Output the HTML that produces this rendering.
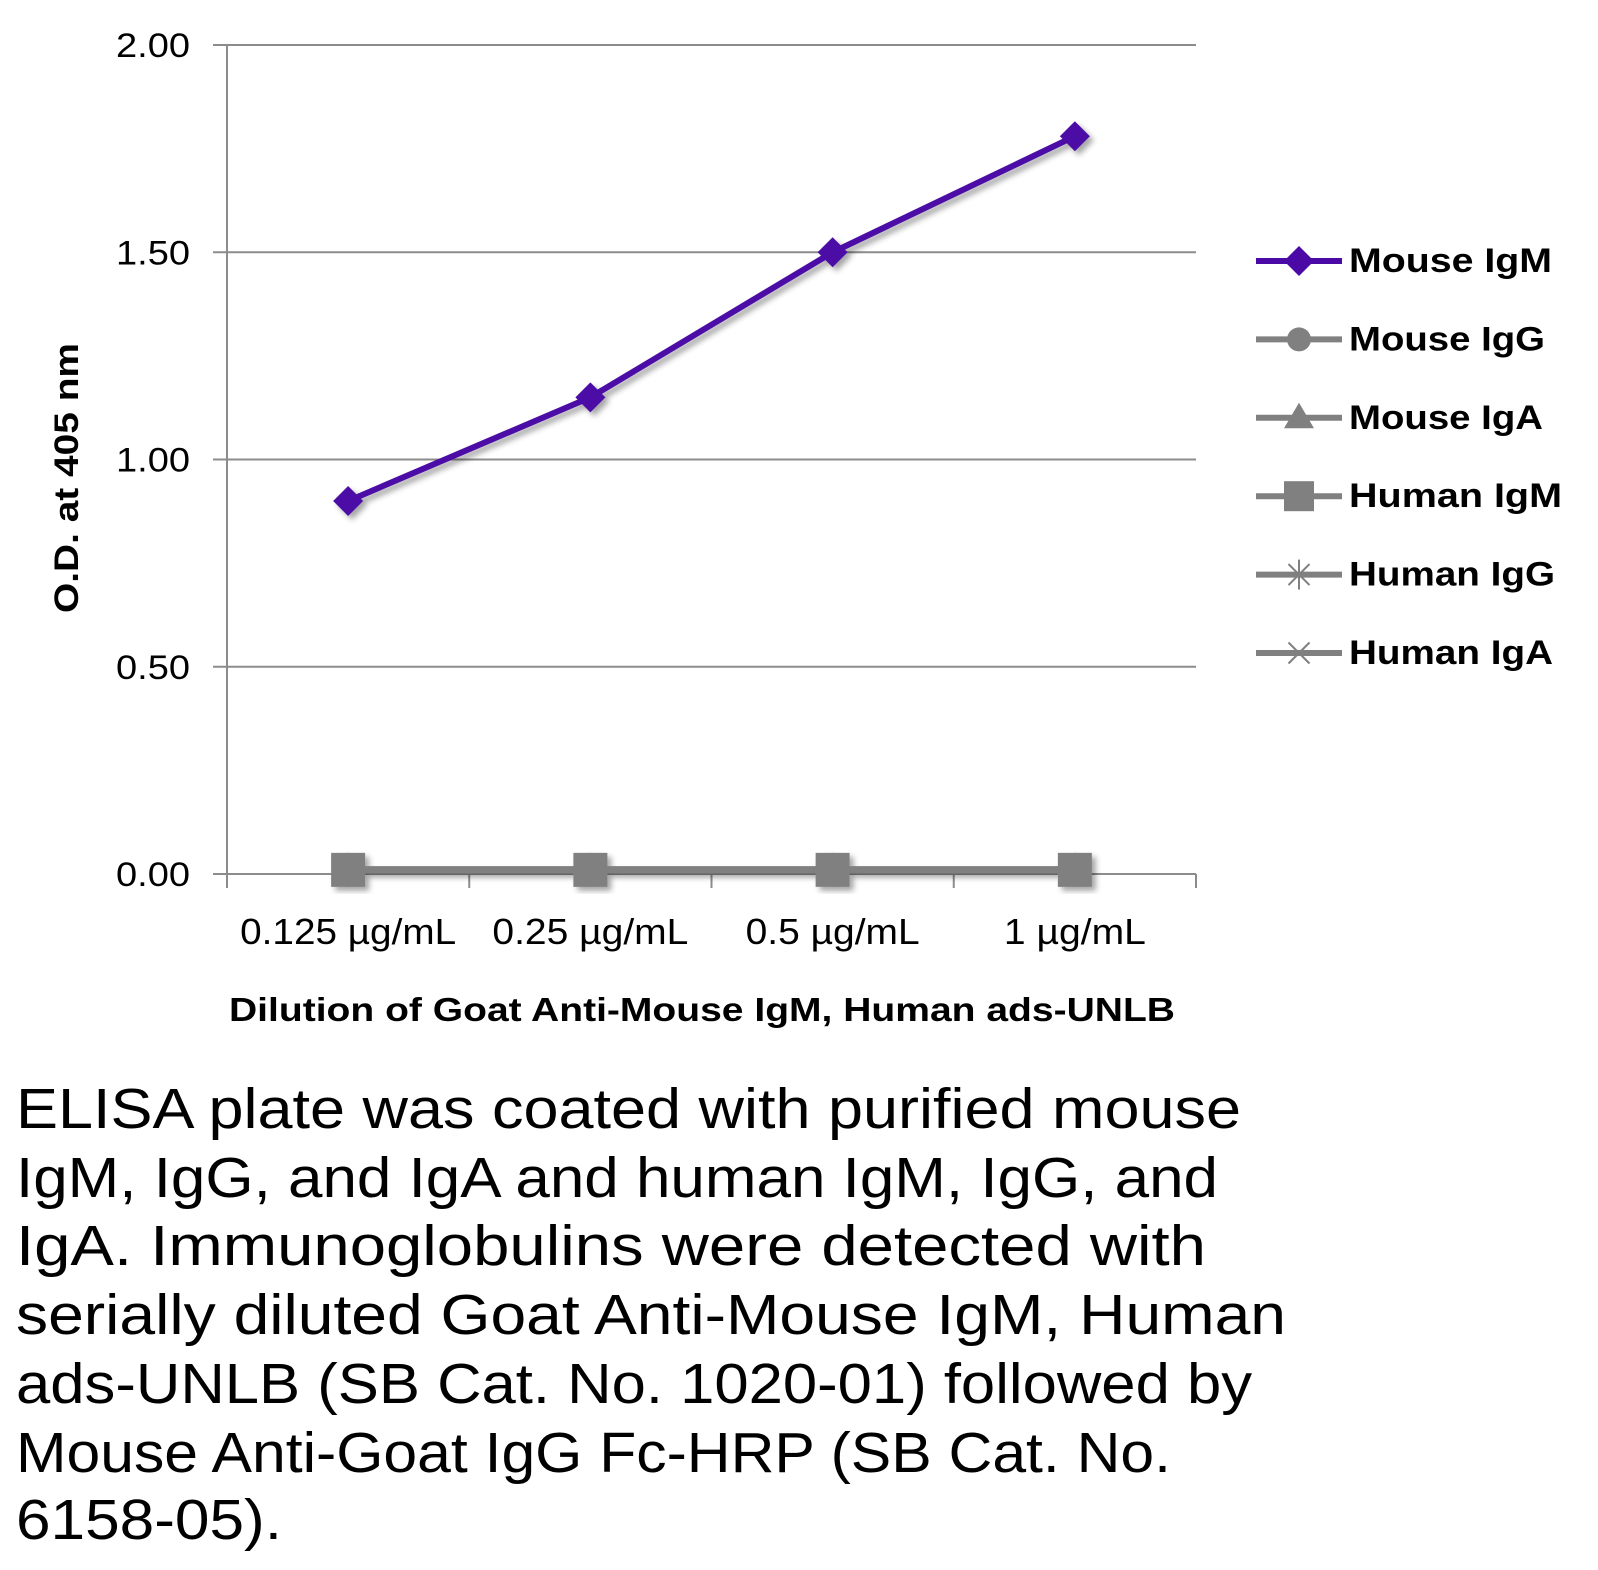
<!DOCTYPE html>
<html><head><meta charset="utf-8"><style>
html,body{margin:0;padding:0;background:#fff;}
svg{display:block;font-family:"Liberation Sans",sans-serif;}
</style></head><body>
<svg id="chart" width="1598" height="1570" viewBox="0 0 1598 1570" xmlns="http://www.w3.org/2000/svg">
<defs><filter id="sh" x="-20%" y="-20%" width="140%" height="140%"><feDropShadow dx="4" dy="4" stdDeviation="3" flood-color="#000" flood-opacity="0.35"/></filter></defs>
<g id="grid"></g>
<g id="axes"></g>
<g id="series"></g>
<text transform="translate(78,478) rotate(-90)" text-anchor="middle" font-weight="bold" font-size="34" textLength="270" lengthAdjust="spacingAndGlyphs">O.D. at 405 nm</text>
<text x="702" y="1021" text-anchor="middle" font-weight="bold" font-size="33" textLength="946" lengthAdjust="spacingAndGlyphs">Dilution of Goat Anti-Mouse IgM, Human ads-UNLB</text>
<g id="legend"></g>
<g font-size="57">
<text x="16" y="1128" textLength="1225" lengthAdjust="spacingAndGlyphs">ELISA plate was coated with purified mouse</text>
<text x="16" y="1197" textLength="1202" lengthAdjust="spacingAndGlyphs">IgM, IgG, and IgA and human IgM, IgG, and</text>
<text x="16" y="1265" textLength="1190" lengthAdjust="spacingAndGlyphs">IgA.  Immunoglobulins were detected with</text>
<text x="16" y="1334" textLength="1270" lengthAdjust="spacingAndGlyphs">serially diluted Goat Anti-Mouse IgM, Human</text>
<text x="16" y="1403" textLength="1236" lengthAdjust="spacingAndGlyphs">ads-UNLB (SB Cat. No. 1020-01) followed by</text>
<text x="16" y="1472" textLength="1155" lengthAdjust="spacingAndGlyphs">Mouse Anti-Goat IgG Fc-HRP (SB Cat. No.</text>
<text x="16" y="1539" textLength="266" lengthAdjust="spacingAndGlyphs">6158-05).</text>
</g>
</svg>
<script>
const categories = ["0.125 µg/mL","0.25 µg/mL","0.5 µg/mL","1 µg/mL"];
const yTicks = [0,0.5,1,1.5,2];
const yTickLabels = ["0.00","0.50","1.00","1.50","2.00"];
const seriesNames = ["Mouse IgM","Mouse IgG","Mouse IgA","Human IgM","Human IgG","Human IgA"];
const mouseIgM = [0.90,1.15,1.50,1.78];
const mouseIgG = [0.01,0.01,0.01,0.01];
const mouseIgA = [0.01,0.01,0.01,0.01];
const humanIgM = [0.01,0.01,0.01,0.01];
const humanIgG = [0.01,0.01,0.01,0.01];
const humanIgA = [0.01,0.01,0.01,0.01];

const NS="http://www.w3.org/2000/svg";
const X0=227,X1=1196,Y0=874,Y1=45,YMAX=2;
const y=v=>Y0-(v/YMAX)*(Y0-Y1);
const band=(X1-X0)/categories.length;
const x=i=>X0+band*(i+0.5);
function mk(tag,attrs,parent){const e=document.createElementNS(NS,tag);for(const k in attrs)e.setAttribute(k,attrs[k]);parent.appendChild(e);return e;}
const grid=document.getElementById('grid'),axes=document.getElementById('axes'),ser=document.getElementById('series'),leg=document.getElementById('legend');
yTicks.forEach((t,i)=>{
  const l=mk('line',{x1:X0-14,x2:X1,y1:y(t),y2:y(t),stroke:'#8c8c8c','stroke-width':2},grid);
  
  
  const tx=mk('text',{x:190,y:y(t)+12,'text-anchor':'end','font-size':34,textLength:74,lengthAdjust:'spacingAndGlyphs'},axes);tx.textContent=yTickLabels[i];
  
  
});
mk('line',{x1:X0,x2:X0,y1:Y1,y2:Y0+14,stroke:'#8c8c8c','stroke-width':2},axes);
for(let i=0;i<=categories.length;i++){mk('line',{x1:X0+band*i,x2:X0+band*i,y1:Y0,y2:Y0+14,stroke:'#8c8c8c','stroke-width':2},axes);}
const tickLens=[216,196,174,142];
categories.forEach((c,i)=>{
  const tx=mk('text',{x:x(i),y:944,'text-anchor':'middle','font-size':36,textLength:tickLens[i],lengthAdjust:'spacingAndGlyphs'},axes);tx.textContent=c;
  
  
});
const gray='#808080',purple='#4b0aa5';
const others=[mouseIgG,mouseIgA,humanIgM,humanIgG,humanIgA];
function marker(kind,cx,cy,col,parent,s){
  if(kind==='diamond')return mk('path',{d:`M${cx} ${cy-s}L${cx+s} ${cy}L${cx} ${cy+s}L${cx-s} ${cy}Z`,fill:col},parent);
  if(kind==='circle')return mk('circle',{cx,cy,r:s*0.8,fill:col},parent);
  if(kind==='tri')return mk('path',{d:`M${cx} ${cy-s}L${cx+s} ${cy+s*0.7}L${cx-s} ${cy+s*0.7}Z`,fill:col},parent);
  if(kind==='square')return mk('rect',{x:cx-s,y:cy-s,width:2*s,height:2*s,fill:col},parent);
  const g=mk('g',{stroke:col,'stroke-width':2},parent);
  mk('line',{x1:cx-s*0.7,y1:cy-s*0.7,x2:cx+s*0.7,y2:cy+s*0.7},g);mk('line',{x1:cx-s*0.7,y1:cy+s*0.7,x2:cx+s*0.7,y2:cy-s*0.7},g);
  if(kind==='star')mk('line',{x1:cx,y1:cy-s,x2:cx,y2:cy+s},g);
  return g;
}
const go=mk('g',{filter:'url(#sh)'},ser);
others.forEach((arr,si)=>{
  const g=mk('g',{},go);
  
  
  mk('polyline',{points:arr.map((v,i)=>x(i)+','+y(v)).join(' '),fill:'none',stroke:gray,'stroke-width':7},g);
  arr.forEach((v,i)=>{const m=marker(['circle','tri','square','star','x'][si],x(i),y(v),gray,g,17);
    
    });
});
const gm=mk('g',{filter:'url(#sh)'},ser);


mk('polyline',{points:mouseIgM.map((v,i)=>x(i)+','+y(v)).join(' '),fill:'none',stroke:purple,'stroke-width':6},gm);
mouseIgM.forEach((v,i)=>{const m=marker('diamond',x(i),y(v),purple,gm,15);
  
  });
const kinds=['diamond','circle','tri','square','star','x'];
seriesNames.forEach((n,i)=>{
  const ly=261+i*78.4,col=i===0?purple:gray;
  const g=mk('g',{},leg);
  
  
  mk('line',{x1:1256,x2:1342,y1:ly,y2:ly,stroke:col,'stroke-width':6},g);
  marker(kinds[i],1299,ly,col,g,15);
  const t=mk('text',{x:1349,y:ly+11,'font-size':34,'font-weight':'bold'},g);t.textContent=n;
  t.setAttribute('textLength',[203,196,194,213,206,204][i]);t.setAttribute('lengthAdjust','spacingAndGlyphs');
});
</script>
</body></html>
